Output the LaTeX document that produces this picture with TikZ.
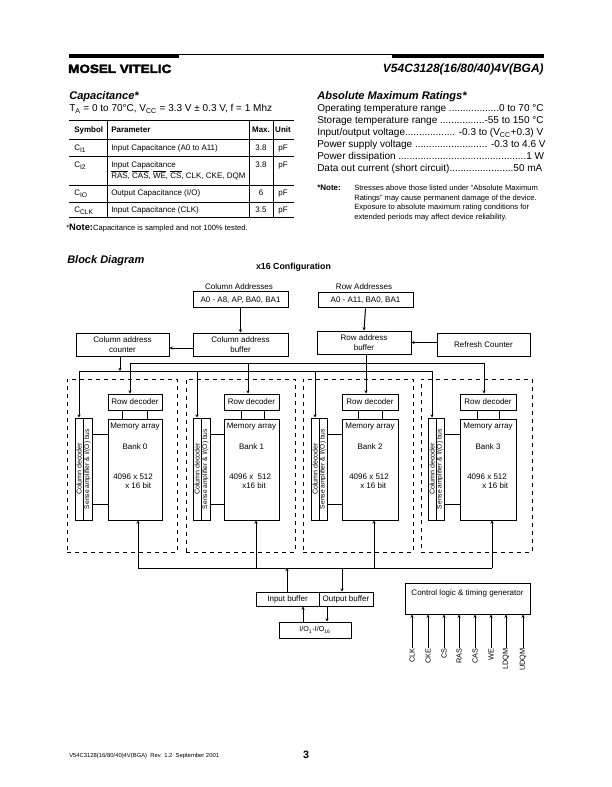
\documentclass[tikz,border=0pt]{standalone}
\usepackage{fontspec}
\usetikzlibrary{arrows.meta}
\setmainfont{Liberation Sans}
\newfontfamily\logofont{Liberation Sans}[FakeStretch=1.12,FakeBold=3]

\tikzset{
	blockbox/.style = {draw, line width=0.75pt, rectangle, inner sep=0pt, align=center, font=\blockfont},
	dashbox/.style = {draw, line width=0.75pt, rectangle, dash pattern=on 3pt off 3pt},
	txt/.style = {inner sep=0pt, anchor=base west, font=\blockfont},
	wire/.style = {line width=0.75pt},
	sig/.style = {line width=0.75pt, -{Stealth[length=2.4pt,width=2.4pt]}},
	rule/.style = {line width=0.75pt}
}
\newcommand{\blockfont}{\fontsize{6}{7.4}\selectfont}
\newcommand{\smallfont}{\fontsize{5.7}{7}\selectfont}
\newcommand{\listfont}{\fontsize{7.5}{9}\selectfont}
\newcommand{\headfont}{\fontsize{8.3}{10}\selectfont\bfseries\itshape}

% style, name, left, top, right, bottom, text
\newcommand{\blk}[7][blockbox]{
	\node[#1, minimum width={(#5-#3)*0.75pt}, minimum height={(#6-#4)*0.75pt}]
		(#2) at ({(#3+#5)/2},{(#4+#6)/2}) {#7};
}

\begin{document}
\begin{tikzpicture}[x=0.75pt,y=-0.75pt]
	\fill[white] (0,0) rectangle (611,787);
	\useasboundingbox (0,0) rectangle (611,787);

	% page head
	\fill (69,54) rectangle (179,58);
	\fill (392,54) rectangle (544,58);
	\draw[line width=0.6pt] (179,54.4) -- (392,54.4);
	\node[txt, font=\logofont\fontsize{9}{10}\selectfont\bfseries] (logo) at (68,73) {MOSEL VITELIC};
	\node[txt, anchor=base east, font=\fontsize{9}{10}\selectfont\bfseries\itshape] (partno) at (544,73) {V54C3128(16/80/40)4V(BGA)};

	% capacitance table
	\node[txt, font=\headfont] (capttl) at (69,100) {Capacitance*};
	\node[txt, font=\listfont] (capcond) at (69,112) {T\textsubscript{A} = 0 to 70°C, V\textsubscript{CC} = 3.3 V ± 0.3 V, f = 1 Mhz};
	\foreach \rowy in {121,140,157,186,203,218}
		\draw[rule] (69,\rowy) -- (294,\rowy);
	\foreach \colx in {107,249,273}
		\draw[rule] (\colx,121) -- (\colx,218);
	\node[txt, font=\blockfont\bfseries] (hsym) at (74,132.5) {Symbol};
	\node[txt, font=\blockfont\bfseries] (hpar) at (111,132.5) {Parameter};
	\node[txt, anchor=base, font=\blockfont\bfseries] (hmax) at (261,132.5) {Max.};
	\node[txt, anchor=base, font=\blockfont\bfseries] (hunit) at (283,132.5) {Unit};
	\foreach \row/\basey/\sym/\param/\maxv in {
		a/151/{C\textsubscript{I1}}/{Input Capacitance (A0 to A11)}/3.8,
		b/168/{C\textsubscript{I2}}/{Input Capacitance}/3.8,
		c/196/{C\textsubscript{IO}}/{Output Capacitance (I/O)}/6,
		d/213/{C\textsubscript{CLK}}/{Input Capacitance (CLK)}/3.5}{
		\node[txt] (sym\row) at (74,\basey) {\sym};
		\node[txt] (par\row) at (111,\basey) {\param};
		\node[txt, anchor=base] (max\row) at (261,\basey) {\maxv};
		\node[txt, anchor=base] (unit\row) at (283,\basey) {pF};
	}
	\node[txt] (parb2) at (111,179) {$\overline{\mbox{RAS}}$, $\overline{\mbox{CAS}}$, $\overline{\mbox{WE}}$, $\overline{\mbox{CS}}$, CLK, CKE, DQM};
	\node[txt, font=\smallfont] (capnote) at (66,231) {*{\fontsize{7}{7}\selectfont\bfseries Note:}Capacitance is sampled and not 100\% tested.};

	% ratings list
	\node[txt, font=\headfont] (absttl) at (317,100) {Absolute Maximum Ratings*};
	\foreach \i/\basey/\ltxt in {
		1/112/{Operating temperature range ..................0 to 70 °C},
		2/124/{Storage temperature range ................-55 to 150 °C},
		3/136/{Input/output voltage.................. -0.3 to (V\textsubscript{CC}+0.3) V},
		4/148/{Power supply voltage .......................... -0.3 to 4.6 V},
		5/160/{Power dissipation ..............................................1 W},
		6/172/{Data out current (short circuit).......................50 mA}}
		\node[txt, font=\listfont] (rate\i) at (317,\basey) {\ltxt};
	\node[txt, font=\fontsize{6}{7}\selectfont\bfseries] (absnote) at (317,191) {*Note:};
	\foreach \i/\basey/\ltxt in {
		1/191/{Stresses above those listed under “Absolute Maximum},
		2/200.5/{Ratings” may cause permanent damage of the device.},
		3/210/{Exposure to absolute maximum rating conditions for},
		4/219.5/{extended periods may affect device reliability.}}
		\node[txt, font=\smallfont] (note\i) at (354,\basey) {\ltxt};

	% block diagram
	\node[txt, font=\fontsize{8.25}{10}\selectfont\bfseries\itshape] (blockttl) at (67,264) {Block Diagram};
	\node[txt, anchor=base, font=\fontsize{6.6}{8}\selectfont\bfseries] (config) at (293.5,270) {x16 Configuration};
	\node[txt, anchor=base] (coladdr) at (239,290) {Column Addresses};
	\node[txt, anchor=base] (rowaddr) at (364,290) {Row Addresses};

	\blk{cadd}{193}{292}{288}{308}{A0 - A8, AP, BA0, BA1}
	\blk{radd}{318}{293}{413}{308}{A0 - A11, BA0, BA1}
	\blk{cabuf}{193}{333}{288}{356}{Column address\\buffer}
	\blk{cacnt}{76}{333}{169}{356}{Column address\\counter}
	\blk{rabuf}{317}{331}{411}{354}{Row address\\buffer}
	\blk{refresh}{437}{333}{530}{356}{Refresh Counter}

	\draw[sig] (cadd.south) -- (cabuf.north);
	\draw[sig] (radd.south) -- (rabuf.north);
	\draw[sig] (cabuf.west |- 0,348) -- (cacnt.east |- 0,348);
	\draw[sig] (refresh.west |- rabuf.east) -- (rabuf.east);

	\foreach \bank/\dashl/\dashr/\coll/\midl/\senr/\meml/\memr/\feeda/\feedb/\rowx/\datax/\sizex/\bitx/\sizet/\bitt in {
		0/67/177/75/83/92/108/162/122/147/130/138/113/125/{4096 x 512}/{x 16 bit},
		1/186/295/193/201/210/224/279/241/264/248/256/229/242/{4096 x \ 512}/{x16 bit},
		2/303/413/311/319/327/342/398/358/382/366/374/349/360/{4096 x 512}/{x 16 bit},
		3/421/532/428/436/444/460/516/477/499/484/492/467/482/{4096 x 512}/{x 16 bit}}{
		\blk[dashbox]{bank\bank}{\dashl}{379}{\dashr}{552}{}
		\blk{rowdec\bank}{\meml}{394}{\memr}{410}{Row decoder}
		\blk{mem\bank}{\meml}{419}{\memr}{520}{}
		\blk{coldec\bank}{\coll}{418}{\midl}{520}{\rotatebox{90}{\fontsize{5.3}{6}\selectfont Column decoder}}
		\blk{sense\bank}{\midl}{418}{\senr}{520}{\rotatebox{90}{\fontsize{5}{6}\selectfont Sense amplifier \& I/(O) bus}}
		\node[txt, anchor=base] (memttl\bank) at (mem\bank.north |- 0,428.5) {Memory array};
		\node[txt, anchor=base] (banklbl\bank) at (mem\bank.north |- 0,449.5) {Bank \bank};
		\node[txt] (size\bank) at (\sizex,479.5) {\sizet};
		\node[txt] (bits\bank) at (\bitx,488.5) {\bitt};
		\coordinate (rowtap\bank) at (\rowx,363);
		\coordinate (coltap\bank) at (coldec\bank.north |- 0,371);
		\coordinate (datatap\bank) at (\datax,568);
		\draw[sig] (rowtap\bank) -- (rowtap\bank |- rowdec\bank.north);
		\draw[sig] (coltap\bank) -- (coldec\bank.north);
		\draw[sig] (datatap\bank) -- (datatap\bank |- mem\bank.south);
		\draw[wire] (\feeda,410) -- (\feeda,419);
		\draw[wire] (\feedb,410) -- (\feedb,419);
		\draw[wire] (sense\bank.east |- 0,434) -- (mem\bank.west |- 0,434);
		\draw[wire] (sense\bank.east |- 0,504) -- (mem\bank.west |- 0,504);
	}
	\draw[wire] (rowtap0) -- (rowtap3);
	\draw[wire] (coltap0) -- (coltap3);
	\draw[wire] (datatap0) -- (datatap3);

	\coordinate (cnttap) at (120,371);
	\draw[sig] (cnttap |- cacnt.south) -- (cnttap);
	\draw[wire] (rowtap2 |- rabuf.south) -- (rowtap2);

	\blk{inbuf}{256}{592}{319}{606}{Input buffer}
	\blk{outbuf}{319}{592}{373}{606}{Output buffer}
	\blk{iobox}{279}{622}{351}{638}{\fontsize{5.4}{6}\selectfont I/O\textsubscript{1}-I/O\textsubscript{16}}
	\blk{ctrl}{405}{583}{530}{614}{}
	\node[txt, anchor=base] (ctrlttl) at (ctrl.north |- 0,595.5) {Control logic \& timing generator};

	\coordinate (intap) at (287,568);
	\coordinate (outtap) at (342,568);
	\coordinate (iotapa) at (303,622);
	\coordinate (iotapb) at (327,606);
	\draw[sig] (intap |- inbuf.north) -- (intap);
	\draw[sig] (outtap) -- (outtap |- outbuf.north);
	\draw[sig] (iotapa) -- (iotapa |- inbuf.south);
	\draw[sig] (iotapb) -- (iotapb |- iobox.north);

	\foreach \i/\pinx/\pinname in {1/412/CLK,2/428/CKE,3/444/CS,4/459/RAS,5/475/CAS,6/491/WE,7/506/LDQM,8/523/UDQM}{
		\node[txt, rotate=90, anchor=east, font=\fontsize{5.5}{6}\selectfont] (pin\i) at (\pinx,648) {\pinname};
		\draw[sig] (pin\i.east) -- (pin\i.east |- ctrl.south);
	}

	% page foot
	\node[txt, font=\fontsize{4.4}{5}\selectfont] (foot) at (69,757) {V54C3128(16/80/40)4V(BGA) \ Rev. 1.2 \ September 2001};
	\node[txt, anchor=base, font=\fontsize{8}{9}\selectfont\bfseries] (pageno) at (306,758.5) {3};
\end{tikzpicture}
\end{document}
